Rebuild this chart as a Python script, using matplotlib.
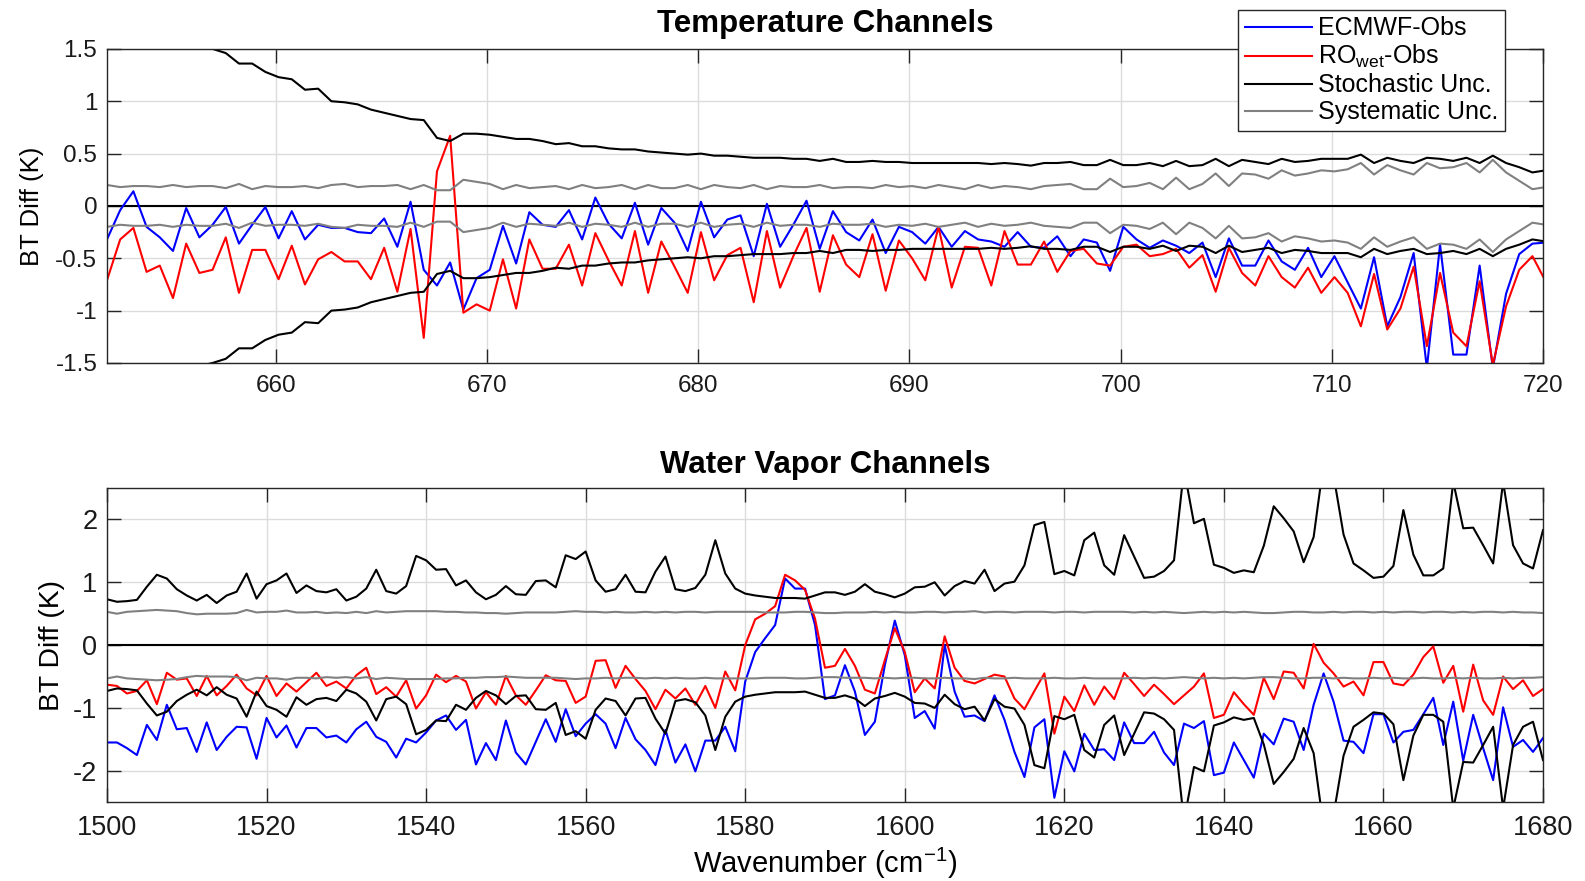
import numpy as np
import matplotlib
matplotlib.use("Agg")
import matplotlib.pyplot as plt

plt.rcParams['font.family'] = ['Liberation Sans', 'DejaVu Sans']
plt.rcParams['mathtext.fontset'] = 'custom'
plt.rcParams['mathtext.rm'] = 'Liberation Sans'
plt.rcParams['axes.unicode_minus'] = False

# ---- temperature channels (0.625 cm-1 spacing from 652 cm-1) ----
wn_t_start, wn_t_step = 652.0, 0.625

ecmwf_t = [-0.32, -0.04, 0.14, -0.20, -0.30, -0.43, -0.02, -0.30, -0.18, -0.01,
           -0.36, -0.18, -0.01, -0.31, -0.05, -0.32, -0.18, -0.21, -0.21, -0.25,
           -0.26, -0.12, -0.39, 0.04, -0.61, -0.76, -0.54, -0.99, -0.69, -0.61,
           -0.19, -0.55, -0.06, -0.18, -0.20, -0.04, -0.32, 0.08, -0.17, -0.31,
           0.03, -0.37, -0.02, -0.16, -0.43, 0.04, -0.30, -0.13, -0.09, -0.48,
           0.02, -0.39, -0.18, 0.05, -0.41, -0.05, -0.25, -0.33, -0.13, -0.45,
           -0.20, -0.25, -0.36, -0.20, -0.39, -0.24, -0.32, -0.34, -0.39, -0.25,
           -0.39, -0.40, -0.29, -0.48, -0.32, -0.35, -0.62, -0.20, -0.32, -0.40,
           -0.33, -0.38, -0.45, -0.35, -0.68, -0.31, -0.57, -0.57, -0.33, -0.53,
           -0.61, -0.40, -0.68, -0.48, -0.73, -0.98, -0.49, -1.15, -0.87, -0.45,
           -1.55, -0.37, -1.42, -1.42, -0.57, -1.55, -0.84, -0.46, -0.36, -0.35]

ro_t = [-0.71, -0.32, -0.21, -0.63, -0.57, -0.88, -0.36, -0.64, -0.61, -0.30,
        -0.83, -0.42, -0.42, -0.70, -0.38, -0.75, -0.51, -0.44, -0.53, -0.53,
        -0.70, -0.40, -0.82, -0.22, -1.26, 0.33, 0.67, -1.02, -0.94, -1.00,
        -0.51, -0.98, -0.32, -0.60, -0.60, -0.37, -0.76, -0.26, -0.52, -0.76,
        -0.24, -0.83, -0.34, -0.58, -0.83, -0.25, -0.71, -0.47, -0.40, -0.92,
        -0.24, -0.78, -0.48, -0.21, -0.82, -0.28, -0.56, -0.68, -0.27, -0.81,
        -0.33, -0.50, -0.71, -0.20, -0.78, -0.39, -0.40, -0.76, -0.24, -0.56,
        -0.56, -0.34, -0.63, -0.43, -0.41, -0.55, -0.57, -0.39, -0.37, -0.48,
        -0.46, -0.41, -0.59, -0.47, -0.82, -0.40, -0.64, -0.76, -0.48, -0.68,
        -0.78, -0.59, -0.83, -0.68, -0.83, -1.15, -0.65, -1.18, -0.98, -0.58,
        -1.34, -0.64, -1.21, -1.34, -0.72, -1.52, -0.96, -0.61, -0.48, -0.72]

stoch_t = [1.95, 1.88, 1.80, 1.74, 1.68, 1.62, 1.57, 1.53, 1.50, 1.46,
           1.36, 1.36, 1.28, 1.23, 1.21, 1.11, 1.12, 1.00, 0.99, 0.97,
           0.92, 0.89, 0.86, 0.83, 0.82, 0.65, 0.62, 0.69, 0.69, 0.68,
           0.66, 0.64, 0.64, 0.62, 0.59, 0.60, 0.57, 0.57, 0.55, 0.54,
           0.54, 0.52, 0.51, 0.50, 0.49, 0.50, 0.48, 0.48, 0.47, 0.46,
           0.46, 0.46, 0.45, 0.45, 0.43, 0.45, 0.42, 0.42, 0.43, 0.42,
           0.42, 0.41, 0.41, 0.41, 0.41, 0.41, 0.41, 0.40, 0.41, 0.40,
           0.385, 0.41, 0.41, 0.42, 0.39, 0.39, 0.44, 0.39, 0.39, 0.41,
           0.38, 0.43, 0.38, 0.39, 0.45, 0.38, 0.44, 0.42, 0.40, 0.45,
           0.42, 0.43, 0.45, 0.45, 0.45, 0.49, 0.41, 0.46, 0.43, 0.41,
           0.46, 0.45, 0.43, 0.46, 0.41, 0.48, 0.41, 0.37, 0.32, 0.34]

syst_t = [0.20, 0.18, 0.19, 0.19, 0.18, 0.20, 0.18, 0.19, 0.19, 0.17,
          0.21, 0.16, 0.19, 0.18, 0.18, 0.19, 0.17, 0.20, 0.21, 0.18,
          0.19, 0.19, 0.20, 0.16, 0.20, 0.15, 0.15, 0.25, 0.23, 0.21,
          0.16, 0.20, 0.17, 0.18, 0.19, 0.16, 0.20, 0.17, 0.18, 0.20,
          0.16, 0.20, 0.17, 0.17, 0.20, 0.16, 0.20, 0.18, 0.17, 0.20,
          0.16, 0.19, 0.18, 0.18, 0.20, 0.17, 0.18, 0.18, 0.17, 0.20,
          0.18, 0.19, 0.17, 0.20, 0.18, 0.16, 0.20, 0.17, 0.19, 0.18,
          0.16, 0.19, 0.20, 0.21, 0.16, 0.16, 0.26, 0.18, 0.19, 0.22,
          0.16, 0.27, 0.16, 0.21, 0.31, 0.19, 0.31, 0.30, 0.26, 0.34,
          0.29, 0.31, 0.34, 0.33, 0.35, 0.41, 0.30, 0.39, 0.34, 0.30,
          0.41, 0.36, 0.37, 0.41, 0.32, 0.44, 0.32, 0.24, 0.16, 0.18]

# ---- water vapor channels (1.25 cm-1 spacing from 1500 cm-1) ----
wn_w_start, wn_w_step = 1500.0, 1.25

ecmwf_w = [-1.55, -1.55, -1.64, -1.75, -1.27, -1.51, -0.95, -1.34, -1.32, -1.70,
           -1.23, -1.67, -1.46, -1.30, -1.31, -1.81, -1.16, -1.47, -1.28, -1.63,
           -1.32, -1.32, -1.47, -1.44, -1.55, -1.34, -1.22, -1.46, -1.54, -1.79,
           -1.49, -1.55, -1.39, -1.20, -1.12, -1.35, -1.19, -1.90, -1.56, -1.83,
           -1.20, -1.71, -1.90, -1.54, -1.18, -1.54, -1.02, -1.45, -1.25, -1.10,
           -1.25, -1.64, -1.16, -1.50, -1.67, -1.91, -1.35, -1.87, -1.58, -2.01,
           -1.52, -1.52, -1.30, -1.69, -0.58, -0.11, 0.11, 0.32, 1.06, 0.90,
           0.90, 0.32, -0.86, -0.80, -0.32, -0.74, -1.43, -1.22, -0.32, 0.39,
           -0.16, -1.16, -1.05, -1.33, 0.00, -0.74, -1.14, -1.12, -1.21, -0.80,
           -1.19, -1.70, -2.10, -1.31, -1.18, -2.43, -1.69, -2.01, -1.41, -1.67,
           -1.66, -1.83, -1.23, -1.56, -1.56, -1.38, -1.71, -1.91, -1.25, -1.32,
           -1.21, -2.07, -2.03, -1.55, -1.83, -2.11, -1.41, -1.58, -1.17, -1.22,
           -1.67, -0.95, -0.45, -0.90, -1.52, -1.54, -1.72, -1.10, -1.10, -1.55,
           -1.38, -1.35, -1.10, -0.84, -1.59, -0.90, -1.84, -1.11, -1.64, -2.15,
           -0.99, -1.62, -1.51, -1.70, -1.48]

ro_w = [-0.63, -0.65, -0.77, -0.73, -0.56, -0.94, -0.44, -0.55, -0.53, -0.81,
        -0.49, -0.80, -0.65, -0.47, -0.69, -0.80, -0.49, -0.81, -0.61, -0.74,
        -0.59, -0.44, -0.65, -0.58, -0.69, -0.48, -0.36, -0.78, -0.67, -0.82,
        -0.56, -1.01, -0.80, -0.47, -0.59, -0.49, -0.58, -1.01, -0.75, -0.95,
        -0.49, -0.80, -0.95, -0.72, -0.48, -0.56, -0.57, -0.92, -0.82, -0.25,
        -0.24, -0.68, -0.33, -0.54, -0.73, -1.02, -0.71, -0.85, -0.69, -0.95,
        -0.65, -1.00, -0.42, -0.72, 0.00, 0.41, 0.50, 0.62, 1.12, 1.03,
        0.88, 0.42, -0.36, -0.33, -0.06, -0.33, -0.71, -0.77, -0.24, 0.27,
        -0.11, -0.75, -0.53, -0.69, 0.14, -0.36, -0.57, -0.61, -0.54, -0.47,
        -0.50, -0.85, -1.02, -0.73, -0.45, -1.41, -0.82, -1.05, -0.64, -0.95,
        -0.66, -0.86, -0.44, -0.62, -0.81, -0.63, -0.78, -0.94, -0.80, -0.66,
        -0.45, -1.16, -1.11, -0.75, -0.94, -1.11, -0.52, -0.86, -0.42, -0.44,
        -0.69, 0.02, -0.28, -0.45, -0.66, -0.58, -0.80, -0.27, -0.27, -0.61,
        -0.64, -0.47, -0.19, -0.02, -0.60, -0.33, -1.06, -0.31, -0.88, -1.11,
        -0.50, -0.70, -0.56, -0.81, -0.70]

stoch_w = [0.73, 0.69, 0.70, 0.72, 0.93, 1.12, 1.06, 0.89, 0.79, 0.71,
           0.80, 0.67, 0.79, 0.85, 1.14, 0.74, 0.97, 1.03, 1.14, 0.83,
           0.95, 0.86, 0.84, 0.89, 0.71, 0.77, 0.90, 1.20, 0.86, 0.82,
           0.94, 1.42, 1.35, 1.20, 1.21, 0.95, 1.03, 0.84, 0.73, 0.80,
           0.94, 0.81, 0.80, 1.02, 1.03, 0.92, 1.43, 1.37, 1.49, 1.03,
           0.85, 0.89, 1.12, 0.85, 0.84, 1.17, 1.41, 0.89, 0.86, 0.91,
           1.12, 1.67, 1.14, 0.90, 0.82, 0.79, 0.77, 0.75, 0.75, 0.75,
           0.74, 0.79, 0.84, 0.84, 0.80, 0.85, 0.97, 0.85, 0.81, 0.76,
           0.82, 0.92, 0.93, 1.00, 0.79, 0.94, 1.02, 0.98, 1.20, 0.86,
           0.98, 1.01, 1.27, 1.91, 1.96, 1.13, 1.18, 1.11, 1.67, 1.79,
           1.27, 1.12, 1.75, 1.41, 1.07, 1.09, 1.18, 1.35, 2.80, 1.94,
           2.01, 1.28, 1.23, 1.15, 1.19, 1.16, 1.58, 2.21, 2.02, 1.81,
           1.32, 1.72, 2.90, 2.70, 1.76, 1.30, 1.19, 1.07, 1.09, 1.26,
           2.15, 1.44, 1.11, 1.11, 1.22, 2.60, 1.86, 1.87, 1.59, 1.30,
           2.60, 1.59, 1.30, 1.22, 1.83]

syst_w = [0.53, 0.50, 0.53, 0.54, 0.55, 0.56, 0.55, 0.54, 0.51, 0.49,
          0.50, 0.50, 0.50, 0.51, 0.56, 0.52, 0.53, 0.53, 0.55, 0.52,
          0.52, 0.53, 0.51, 0.52, 0.51, 0.53, 0.51, 0.54, 0.52, 0.53,
          0.54, 0.54, 0.54, 0.54, 0.53, 0.53, 0.52, 0.52, 0.51, 0.51,
          0.50, 0.51, 0.52, 0.52, 0.52, 0.52, 0.53, 0.54, 0.53, 0.53,
          0.52, 0.53, 0.52, 0.52, 0.53, 0.52, 0.53, 0.52, 0.53, 0.53,
          0.52, 0.53, 0.53, 0.53, 0.53, 0.53, 0.52, 0.52, 0.52, 0.53,
          0.53, 0.52, 0.51, 0.51, 0.52, 0.52, 0.52, 0.53, 0.52, 0.53,
          0.52, 0.52, 0.53, 0.53, 0.52, 0.53, 0.53, 0.54, 0.52, 0.53,
          0.53, 0.52, 0.53, 0.53, 0.53, 0.52, 0.53, 0.53, 0.52, 0.53,
          0.53, 0.53, 0.53, 0.52, 0.53, 0.52, 0.53, 0.52, 0.51, 0.52,
          0.53, 0.52, 0.53, 0.52, 0.53, 0.52, 0.51, 0.51, 0.52, 0.53,
          0.53, 0.52, 0.52, 0.53, 0.52, 0.53, 0.53, 0.52, 0.53, 0.52,
          0.53, 0.53, 0.52, 0.53, 0.53, 0.52, 0.53, 0.52, 0.53, 0.53,
          0.52, 0.53, 0.52, 0.52, 0.51]

wn_t = wn_t_start + wn_t_step * np.arange(len(ecmwf_t))
wn_w = wn_w_start + wn_w_step * np.arange(len(ecmwf_w))

fig = plt.figure(figsize=(15.85, 8.81), dpi=100)
ax1 = fig.add_axes([0.0675, 0.588, 0.906, 0.3565])
ax2 = fig.add_axes([0.0675, 0.0895, 0.906, 0.3565])

lw = 1.5
gray = '#808080'


def draw_panel(ax, wn, ecm, ro, stoch, syst, fs):
    ecm, ro = np.array(ecm), np.array(ro)
    stoch, syst = np.array(stoch), np.array(syst)
    ax.plot(wn, ecm, color='#0000ff', lw=lw, label='ECMWF-Obs')
    ax.plot(wn, ro, color='#ff0000', lw=lw, label=r'RO$_{\mathrm{wet}}$-Obs')
    ax.plot(wn, stoch, color='black', lw=lw, label='Stochastic Unc.')
    ax.plot(wn, -stoch, color='black', lw=lw)
    ax.plot(wn, syst, color=gray, lw=lw, label='Systematic Unc.')
    ax.plot(wn, -syst, color=gray, lw=lw)
    ax.axhline(0, color='black', lw=1.5, zorder=1)
    ax.grid(True, color='#dcdcdc', lw=1)
    ax.set_axisbelow(True)
    ax.tick_params(direction='in', length=10, width=1, top=True, right=True,
                   labelsize=fs, colors='#262626', labelcolor='#1a1a1a')
    ax.tick_params(axis='x', pad=9)
    ax.tick_params(axis='y', pad=7)
    for s in ax.spines.values():
        s.set_color('#262626')
        s.set_linewidth(1)


def fmt(v):
    return ('%g' % v)


draw_panel(ax1, wn_t, ecmwf_t, ro_t, stoch_t, syst_t, 17.5)
ax1.set_xlim(652, 720)
ax1.set_ylim(-1.5, 1.5)
ax1.set_xticks(np.arange(660, 721, 10))
yt1 = [-1.5, -1, -0.5, 0, 0.5, 1, 1.5]
ax1.set_yticks(yt1)
ax1.set_yticklabels([fmt(v) for v in yt1])
ax1.set_title('Temperature Channels', fontsize=22.5, fontweight='bold', pad=12)
ax1.set_ylabel('BT Diff (K)', fontsize=18.5, labelpad=8)

draw_panel(ax2, wn_w, ecmwf_w, ro_w, stoch_w, syst_w, 19.5)
ax2.set_xlim(1500, 1680)
ax2.set_ylim(-2.5, 2.5)
ax2.set_xticks(np.arange(1500, 1681, 20))
ax2.set_yticks([-2, -1, 0, 1, 2])
ax2.set_title('Water Vapor Channels', fontsize=22.5, fontweight='bold', pad=11)
ax2.set_ylabel('BT Diff (K)', fontsize=20.3, labelpad=6)
ax2.set_xlabel(r'Wavenumber (cm$^{-1}$)', fontsize=21, labelpad=4)

leg = ax1.legend(loc='upper right', bbox_to_anchor=(1505 / 1585, 1 - 10 / 881),
                 bbox_transform=fig.transFigure, fontsize=18, frameon=True,
                 fancybox=False, framealpha=1, edgecolor='#262626',
                 handlelength=2.7, handletextpad=0.25, labelspacing=0.12,
                 borderpad=0.25, borderaxespad=0)
leg.get_frame().set_linewidth(1)
leg.set_zorder(10)

fig.savefig('out.png', dpi=100)
